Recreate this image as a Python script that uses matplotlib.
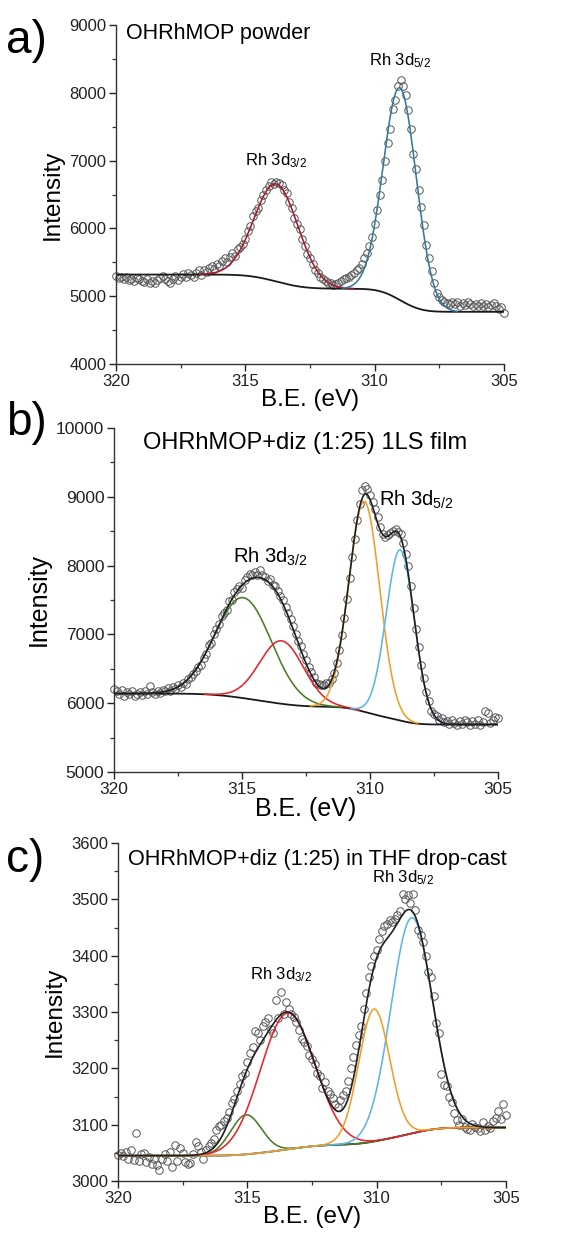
import numpy as np
import matplotlib
matplotlib.use("Agg")
import matplotlib.pyplot as plt
from matplotlib.ticker import MultipleLocator

plt.rcParams['font.family'] = ['Liberation Sans', 'DejaVu Sans']
plt.rcParams['mathtext.default'] = 'regular'

# Binding energy grid of the Rh 3d scans (eV), 0.1 eV steps from 320 to 305
be = np.linspace(320.0, 305.0, 151)

# --- a) OHRhMOP powder -------------------------------------------------
powder_counts = [
    5300, 5270, 5290, 5250, 5280, 5240, 5260, 5220, 5270, 5250,
    5230, 5210, 5250, 5200, 5230, 5190, 5240, 5270, 5300, 5250,
    5220, 5190, 5260, 5300, 5240, 5280, 5330, 5290, 5350, 5310,
    5280, 5340, 5380, 5320, 5390, 5360, 5410, 5440, 5400, 5470,
    5450, 5520, 5560, 5500, 5580, 5640, 5600, 5690, 5720, 5770,
    5850, 5960, 6040, 6180, 6250, 6300, 6420, 6500, 6560, 6620,
    6680, 6650, 6690, 6670, 6640, 6560, 6520, 6390, 6300, 6160,
    6060, 5990, 5850, 5740, 5620, 5560, 5470, 5380, 5340, 5290,
    5250, 5230, 5200, 5190, 5170, 5180, 5200, 5230, 5250, 5270,
    5290, 5320, 5340, 5380, 5420, 5470, 5560, 5640, 5740, 5870,
    6060, 6270, 6500, 6720, 7000, 7260, 7460, 7760, 7900, 8100,
    8190, 8100, 7970, 7740, 7460, 7100, 6870, 6570, 6320, 6050,
    5760, 5560, 5370, 5200, 5050, 4990, 4950, 4920, 4900, 4890,
    4920, 4880, 4910, 4860, 4900, 4870, 4920, 4880, 4850, 4890,
    4860, 4900, 4850, 4880, 4840, 4870, 4900, 4860, 4810, 4840,
    4760,
]
powder_centres = [313.8, 309.02]
powder_heights = [1440, 3130]
powder_sigmas = [0.85, 0.64]
powder_bg = (5320, 4770)

# --- b) OHRhMOP+diz (1:25) 1LS film ------------------------------------
film_counts = [
    6200, 6170, 6130, 6190, 6110, 6160, 6140, 6180, 6100, 6130,
    6160, 6120, 6170, 6140, 6250, 6160, 6130, 6180, 6150, 6190,
    6170, 6220, 6180, 6240, 6210, 6260, 6240, 6300, 6280, 6350,
    6380, 6420, 6470, 6530, 6560, 6650, 6720, 6850, 6880, 7010,
    7080, 7150, 7260, 7310, 7360, 7480, 7500, 7620, 7660, 7700,
    7680, 7790, 7830, 7880, 7860, 7900, 7870, 7930, 7860, 7830,
    7780, 7800, 7720, 7700, 7630, 7560, 7500, 7400, 7310, 7230,
    7120, 7000, 6900, 6830, 6720, 6630, 6520, 6450, 6380, 6300,
    6280, 6270, 6260, 6290, 6300, 6350, 6440, 6580, 6770, 6990,
    7240, 7520, 7820, 8130, 8380, 8660, 8900, 9100, 9150, 9120,
    9020, 8930, 8820, 8700, 8560, 8460, 8410, 8440, 8470, 8500,
    8530, 8490, 8460, 8330, 8170, 8000, 7710, 7390, 7080, 6810,
    6560, 6370, 6160, 6030, 5890, 5840, 5810, 5760, 5780, 5720,
    5740, 5700, 5760, 5710, 5690, 5740, 5700, 5760, 5720, 5680,
    5740, 5700, 5750, 5680, 5720, 5880, 5860, 5710, 5760, 5800,
    5780,
]
film_centres = [314.95, 313.45, 310.22, 308.82]
film_heights = [1460, 915, 3060, 2480]
film_sigmas = [1.1, 0.86, 0.60, 0.55]
film_bg = (6140, 5690)

# --- c) OHRhMOP+diz (1:25) in THF drop-cast ----------------------------
thf_counts = [
    3046, 3050, 3044, 3052, 3040, 3056, 3038, 3086, 3036, 3048,
    3050, 3034, 3042, 3030, 3040, 3028, 3020, 3040, 3048, 3036,
    3052, 3025, 3064, 3036, 3058, 3050, 3034, 3030, 3032, 3048,
    3070, 3062, 3052, 3040, 3056, 3062, 3068, 3074, 3090, 3098,
    3100, 3106, 3112, 3122, 3138, 3146, 3160, 3172, 3186, 3192,
    3212, 3228, 3238, 3266, 3262, 3250, 3276, 3282, 3290, 3270,
    3262, 3322, 3290, 3336, 3296, 3318, 3305, 3296, 3292, 3282,
    3268, 3252, 3246, 3240, 3224, 3216, 3208, 3192, 3186, 3166,
    3176, 3160, 3154, 3148, 3136, 3132, 3144, 3152, 3160, 3178,
    3200, 3220, 3242, 3260, 3276, 3306, 3334, 3362, 3382, 3400,
    3410, 3430, 3444, 3452, 3456, 3464, 3460, 3466, 3472, 3480,
    3510, 3500, 3508, 3494, 3510, 3482, 3446, 3436, 3424, 3400,
    3372, 3362, 3328, 3280, 3262, 3190, 3170, 3168, 3150, 3140,
    3120, 3108, 3100, 3110, 3096, 3092, 3090, 3102, 3096, 3094,
    3088, 3104, 3090, 3098, 3094, 3106, 3112, 3124, 3110, 3136,
    3118,
]
thf_centres = [315.05, 313.45, 308.65, 310.1]
thf_heights = [70, 242, 383, 235]
thf_sigmas = [0.6, 1.05, 0.8, 0.6]
thf_bg = (3045, 3095)

duo_colours = ['#a8192e', '#35789f']
film_colours = ['#4b7a28', '#e8232b', '#f29e26', '#5cb6e6']
thf_colours = ['#4b7a28', '#e8232b', '#5cb6e6', '#f29e26']

xf = np.linspace(320.0, 305.0, 751)


def components(x, centres, heights, sigmas):
    return [h * np.exp(-(x - c) ** 2 / (2 * s ** 2))
            for c, h, s in zip(centres, heights, sigmas)]


def shirley(x, comps, b_high, b_low):
    # background steps with the integrated peak area (x runs high -> low BE)
    total = np.sum(comps, axis=0)
    cum = np.cumsum(total[::-1])[::-1]
    return b_low + (b_high - b_low) * cum / cum[0]


def style_axes(ax, ylim, ymajor, yminor, tick_size=12, label_size=17.5):
    ax.set_xlim(320, 305)
    ax.set_ylim(*ylim)
    ax.xaxis.set_major_locator(MultipleLocator(5))
    ax.xaxis.set_minor_locator(MultipleLocator(2.5))
    ax.yaxis.set_major_locator(MultipleLocator(ymajor))
    ax.yaxis.set_minor_locator(MultipleLocator(yminor))
    for side in ['top', 'right']:
        ax.spines[side].set_visible(False)
    for side in ['left', 'bottom']:
        ax.spines[side].set_linewidth(1.0)
        ax.spines[side].set_color('#333333')
    ax.tick_params(which='major', direction='out', length=5, width=1,
                   labelsize=tick_size, colors='#222222', pad=2)
    ax.tick_params(which='minor', direction='out', length=3, width=0.9,
                   colors='#333333')
    ax.set_xlabel('B.E. (eV)', fontsize=label_size, labelpad=0)
    ax.set_ylabel('Intensity', fontsize=label_size, labelpad=4)


def draw_panel(ax, counts, centres, heights, sigmas, bg, colours,
               envelope, span=None):
    ax.plot(be, counts, 'o', ms=5.4, mfc='none', mec='#555555', mew=0.7,
            clip_on=False, zorder=1)
    comps = components(xf, centres, heights, sigmas)
    base = shirley(xf, comps, *bg)
    ax.plot(xf, base, color='#1a1a1a', lw=1.3, zorder=2)
    for g, c, s, col in zip(comps, centres, sigmas, colours):
        y = base + g
        if span is not None:
            # each component only drawn around its own peak
            y = np.where(np.abs(xf - c) <= span * s, y, np.nan)
        ax.plot(xf, y, color=col, lw=1.15, zorder=3)
    if envelope:
        ax.plot(xf, base + np.sum(comps, axis=0), color='#1f1f1f', lw=1.2,
                zorder=4)


fig = plt.figure(figsize=(5.75, 12.34), dpi=100)

ax_a = fig.add_axes([0.2017, 0.7050, 0.6748, 0.2747])
draw_panel(ax_a, powder_counts, powder_centres, powder_heights,
           powder_sigmas, powder_bg, duo_colours, envelope=False, span=3.5)
style_axes(ax_a, (4000, 9000), 1000, 500)
ax_a.text(319.6, 8880, 'OHRhMOP powder', fontsize=15.5, ha='left', va='center')
ax_a.text(313.8, 7000, 'Rh 3d$_{3/2}$', fontsize=12, ha='center', va='center')
ax_a.text(309.0, 8480, 'Rh 3d$_{5/2}$', fontsize=12, ha='center', va='center')

ax_b = fig.add_axes([0.1983, 0.3744, 0.6678, 0.2788])
draw_panel(ax_b, film_counts, film_centres, film_heights, film_sigmas,
           film_bg, film_colours, envelope=True, span=3.5)
style_axes(ax_b, (5000, 10000), 1000, 500, tick_size=12.5, label_size=18)
ax_b.text(312.55, 9777, 'OHRhMOP+diz (1:25) 1LS film', fontsize=17,
          ha='center', va='center')
ax_b.text(313.9, 8130, 'Rh 3d$_{3/2}$', fontsize=14.5, ha='center', va='center')
ax_b.text(308.2, 8955, 'Rh 3d$_{5/2}$', fontsize=14.5, ha='center', va='center')

ax_c = fig.add_axes([0.2052, 0.0429, 0.6748, 0.2739])
draw_panel(ax_c, thf_counts, thf_centres, thf_heights, thf_sigmas,
           thf_bg, thf_colours, envelope=True)
style_axes(ax_c, (3000, 3600), 100, 50)
ax_c.text(319.6, 3570, 'OHRhMOP+diz (1:25) in THF drop-cast', fontsize=15.6,
          ha='left', va='center')
ax_c.text(313.7, 3366, 'Rh 3d$_{3/2}$', fontsize=12, ha='center', va='center')
ax_c.text(308.98, 3538, 'Rh 3d$_{5/2}$', fontsize=12, ha='center', va='center')

# panel letters
for label, ypix in [('a)', 41), ('b)', 423), ('c)', 860)]:
    fig.text(6 / 575, 1 - ypix / 1234, label, fontsize=33, ha='left',
             va='center')

fig.savefig('out.png', dpi=100)
